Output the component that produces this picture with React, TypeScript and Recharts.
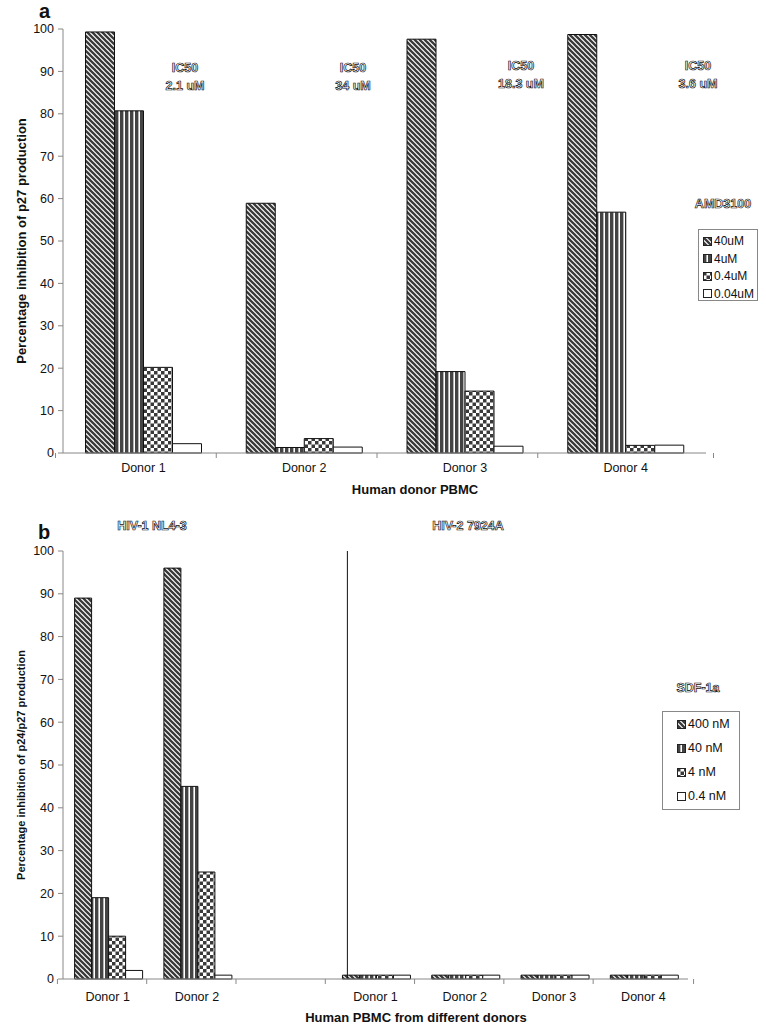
import React from 'react';
import { BarChart, Bar, XAxis, YAxis, Legend, ReferenceLine } from 'recharts';

// panel a - AMD3100
const donorsTop = ['Donor 1', 'Donor 2', 'Donor 3', 'Donor 4'];
const amdDoses = ['40uM', '4uM', '0.4uM', '0.04uM'];
const amd40 = [99.3, 58.9, 97.6, 98.7];
const amd4 = [80.7, 1.3, 19.2, 56.8];
const amd04 = [20.2, 3.4, 14.6, 1.8];
const amd004 = [2.2, 1.4, 1.6, 1.85];
const ic50Values = ['2.1 uM', '34 uM', '18.3 uM', '3.6 uM'];

// panel b - SDF-1a
const donorsBottom = ['Donor 1', 'Donor 2', '', 'Donor 1', 'Donor 2', 'Donor 3', 'Donor 4'];
const sdfDoses = ['400 nM', '40 nM', '4 nM', '0.4 nM'];
const sdf400 = [89, 96, null, 0.9, 0.9, 0.9, 0.9];
const sdf40 = [19, 45, null, 0.9, 0.9, 0.9, 0.9];
const sdf4 = [10, 25, null, 0.9, 0.9, 0.9, 0.9];
const sdf04 = [2, 0.9, null, 0.9, 0.9, 0.9, 0.9];
const virusTitles = ['HIV-1 NL4-3', 'HIV-2 7924A'];
const dividerAt = 2.73; // in category units, between HIV-1 and HIV-2 groups

const yTicks = [0, 10, 20, 30, 40, 50, 60, 70, 80, 90, 100];

const topData = donorsTop.map((d, i) => ({ donor: d, s0: amd40[i], s1: amd4[i], s2: amd04[i], s3: amd004[i] }));
const bottomData = donorsBottom.map((d, i) => ({ donor: d, s0: sdf400[i], s1: sdf40[i], s2: sdf4[i], s3: sdf04[i] }));

const FONT = '"Liberation Sans", Arial, Helvetica, sans-serif';
const fills = ['url(#pDiag)', 'url(#pVert)', 'url(#pCheck)', '#ffffff'];
const W = 766;
const YW = 63;

const makeTick = (count: number, dy: number) => (props: any) => {
  const { x, y, payload, index } = props;
  const band = (W - YW) / count;
  return (
    <g>
      <line x1={x - band / 2} x2={x - band / 2} y1={y} y2={y + 5} stroke="#888" />
      {index === count - 1 && <line x1={x + band / 2} x2={x + band / 2} y1={y} y2={y + 5} stroke="#888" />}
      <text x={x} y={y + dy} textAnchor="middle" fontSize={12.5} fill="#111" fontFamily={FONT}>
        {payload.value}
      </text>
    </g>
  );
};

const makeLegend = (box: any, names: string[]) => (props: any) => {
  const items = [...(props.payload || [])].sort((a: any, b: any) => names.indexOf(a.value) - names.indexOf(b.value));
  return (
    <div
      style={{
        width: box.w,
        height: box.h,
        border: '1px solid #888',
        background: '#fff',
        boxSizing: 'border-box',
        position: 'relative',
        fontFamily: FONT,
        fontSize: box.fs,
        color: '#111',
      }}
    >
      {items.map((it: any, i: number) => (
        <div
          key={i}
          style={{ position: 'absolute', left: box.pad, top: box.first + i * box.step - 8, height: 16, display: 'flex', alignItems: 'center', whiteSpace: 'nowrap' }}
        >
          <svg width={9} height={9} style={{ marginRight: 2 }}>
            <rect x={0.5} y={0.5} width={8} height={8} fill={it.color} stroke="#222" />
          </svg>
          <span>{it.value}</span>
        </div>
      ))}
    </div>
  );
};

const outline = {
  fill: '#fff',
  stroke: '#111',
  strokeWidth: 0.7,
  fontWeight: 'bold' as const,
  fontSize: 12.5,
  fontFamily: '"Liberation Sans Narrow", "Liberation Sans", Arial, sans-serif',
  textAnchor: 'middle' as const,
};

export default function App() {
  const icPos = [
    [185, 68],
    [353, 68],
    [521, 66],
    [698, 66],
  ];
  return (
    <div style={{ position: 'absolute', left: 0, top: 0, width: W, height: 1031, background: '#fff', fontFamily: FONT }}>
      <div style={{ position: 'absolute', left: 0, top: 0 }}>
        <BarChart width={W} height={500} data={topData} margin={{ top: 29, right: 0, bottom: 0, left: 0 }} barCategoryGap="14%" barGap={0}>
          <XAxis dataKey="donor" height={47} tickSize={0} tickMargin={0} tickLine={false} axisLine={{ stroke: '#888' }} interval={0} tick={makeTick(4, 19)} />
          <YAxis
            domain={[0, 100]}
            ticks={yTicks}
            interval={0}
            width={YW}
            tickSize={5}
            tickMargin={4}
            axisLine={{ stroke: '#888' }}
            tickLine={{ stroke: '#888' }}
            tick={{ fill: '#111', fontSize: 12.5, fontFamily: FONT }}
          />
          <Legend
            layout="horizontal"
            verticalAlign="middle"
            align="right"
            wrapperStyle={{ left: 698, top: 229, width: 60 }}
            content={makeLegend({ w: 60, h: 72, pad: 4, first: 11, step: 17.5, fs: 12 }, amdDoses)}
          />
          {amdDoses.map((d, i) => (
            <Bar key={d} dataKey={'s' + i} name={d} fill={fills[i]} stroke="#111" strokeWidth={1} isAnimationActive={false} />
          ))}
        </BarChart>
      </div>

      <div style={{ position: 'absolute', left: 0, top: 500 }}>
        <BarChart width={W} height={531} data={bottomData} margin={{ top: 51, right: 0, bottom: 0, left: 0 }} barCategoryGap="13%" barGap={0}>
          <XAxis dataKey="donor" height={52} tickSize={0} tickMargin={0} tickLine={false} axisLine={{ stroke: '#888' }} interval={0} tick={makeTick(7, 22)} />
          <XAxis xAxisId="n" type="number" domain={[0, donorsBottom.length]} hide />
          <YAxis
            domain={[0, 100]}
            ticks={yTicks}
            interval={0}
            width={YW}
            tickSize={5}
            tickMargin={4}
            axisLine={{ stroke: '#888' }}
            tickLine={{ stroke: '#888' }}
            tick={{ fill: '#111', fontSize: 12.5, fontFamily: FONT }}
          />
          <ReferenceLine xAxisId="n" x={dividerAt} stroke="#111" strokeWidth={1} />
          <Legend
            layout="horizontal"
            verticalAlign="middle"
            align="right"
            wrapperStyle={{ left: 662, top: 211, width: 78 }}
            content={makeLegend({ w: 78, h: 99, pad: 14, first: 12, step: 24, fs: 12.5 }, sdfDoses)}
          />
          {sdfDoses.map((d, i) => (
            <Bar key={d} dataKey={'s' + i} name={d} fill={fills[i]} stroke="#111" strokeWidth={1} isAnimationActive={false} />
          ))}
        </BarChart>
      </div>

      <svg width={W} height={1031} style={{ position: 'absolute', left: 0, top: 0, pointerEvents: 'none' }}>
        <defs>
          <pattern id="pDiag" patternUnits="userSpaceOnUse" width={5} height={5}>
            <rect width={5} height={5} fill="#fff" />
            <path d="M-1,-1 L6,6 M4,-1 L6,1 M-1,4 L1,6" stroke="#3a3a3a" strokeWidth={2.3} />
          </pattern>
          <pattern id="pVert" patternUnits="userSpaceOnUse" width={5} height={5}>
            <rect width={5} height={5} fill="#fff" />
            <rect width={3.4} height={5} fill="#444" />
          </pattern>
          <pattern id="pCheck" patternUnits="userSpaceOnUse" width={7} height={7}>
            <rect width={7} height={7} fill="#fff" />
            <rect width={3.5} height={3.5} fill="#3a3a3a" />
            <rect x={3.5} y={3.5} width={3.5} height={3.5} fill="#3a3a3a" />
          </pattern>
        </defs>

        <text x={39} y={18} fontSize={20} fontWeight="bold" fontFamily={FONT} fill="#111">a</text>
        <text x={38} y={539} fontSize={20} fontWeight="bold" fontFamily={FONT} fill="#111">b</text>

        <text transform="translate(26,241) rotate(-90)" textAnchor="middle" fontSize={13} fontWeight="bold" fontFamily={FONT} fill="#111">
          Percentage inhibition of p27 production
        </text>
        <text transform="translate(25,765) rotate(-90)" textAnchor="middle" fontSize={11} fontWeight="bold" fontFamily={FONT} fill="#111">
          Percentage inhibition of p24/p27 production
        </text>

        <text x={415} y={494} textAnchor="middle" fontSize={13} fontWeight="bold" fontFamily={FONT} fill="#111">Human donor PBMC</text>
        <text x={416} y={1022} textAnchor="middle" fontSize={13} fontWeight="bold" fontFamily={FONT} fill="#111">Human PBMC from different donors</text>

        {ic50Values.map((v, i) => (
          <g key={v}>
            <text {...outline} x={icPos[i][0]} y={icPos[i][1] + 4}>IC50</text>
            <text {...outline} x={icPos[i][0]} y={icPos[i][1] + 22}>{v}</text>
          </g>
        ))}
        <text {...outline} x={723} y={208}>AMD3100</text>
        <text {...outline} x={152} y={530}>{virusTitles[0]}</text>
        <text {...outline} x={468} y={530}>{virusTitles[1]}</text>
        <text {...outline} x={698} y={692}>SDF-1a</text>
      </svg>
    </div>
  );
}
